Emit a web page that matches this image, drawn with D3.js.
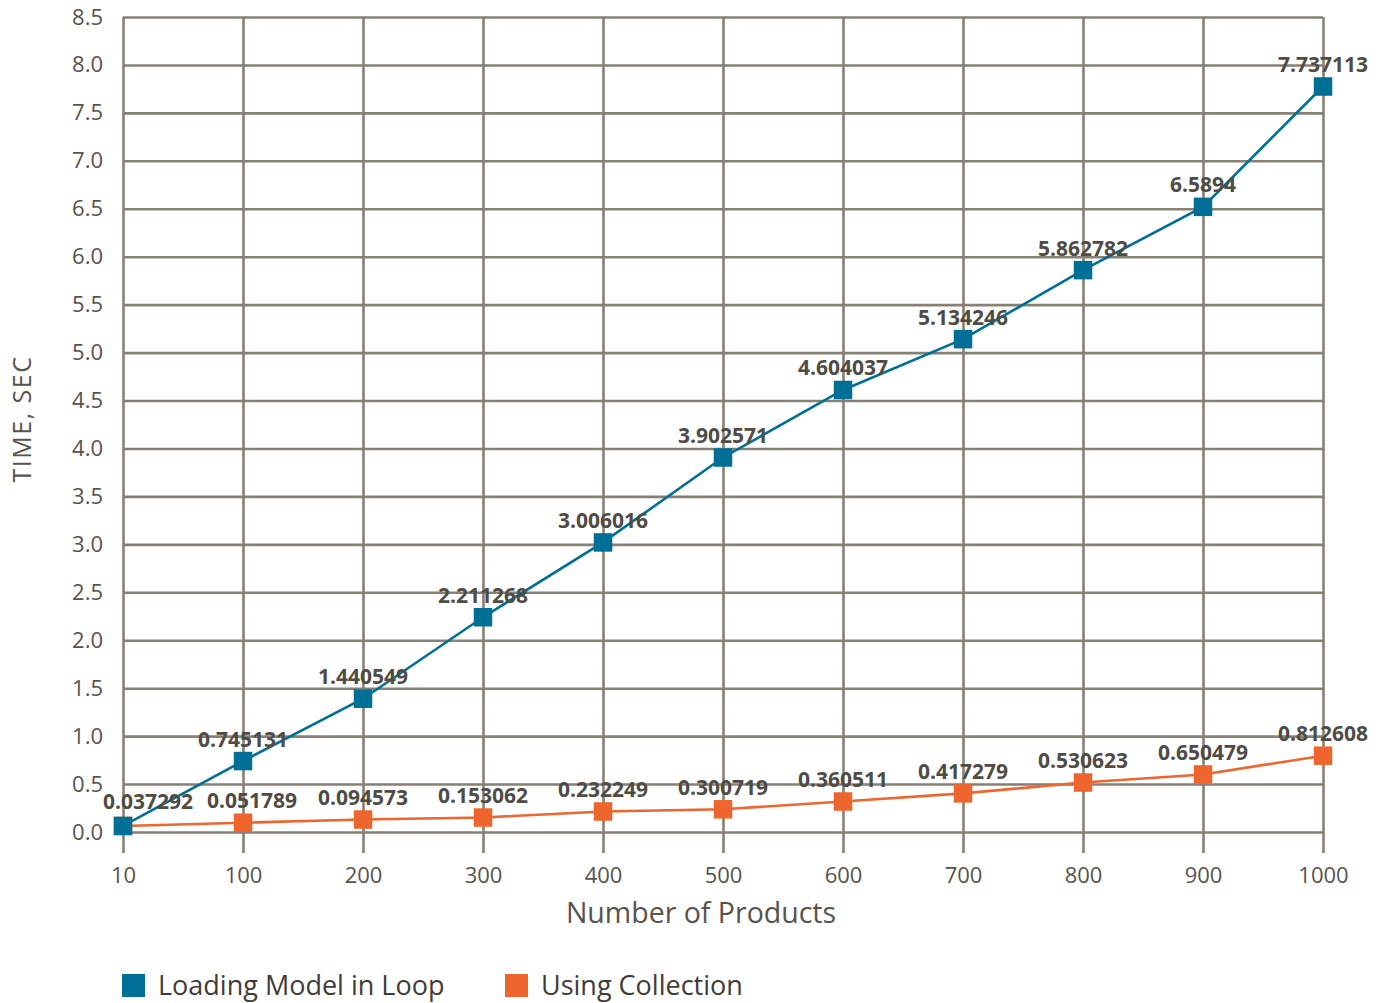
<!DOCTYPE html>
<html>
<head>
<meta charset="utf-8">
<script src="https://cdn.jsdelivr.net/npm/d3@7"></script>
<style>
  html, body { margin: 0; padding: 0; background: #fff; }
  svg { display: block; font-family: "Open Sans", sans-serif; }
</style>
</head>
<body>
<svg id="chart" width="1381" height="1003"></svg>
<script>
// ---- data ----
const categories = ["10", "100", "200", "300", "400", "500", "600", "700", "800", "900", "1000"];
const loopValues = [0.063, 0.74, 1.39, 2.24, 3.02, 3.906, 4.61, 5.14, 5.86, 6.52, 7.775];
const loopLabels = ["", "0.745131", "1.440549", "2.211268", "3.006016", "3.902571", "4.604037", "5.134246", "5.862782", "6.5894", "7.737113"];
const collectionValues = [0.063, 0.097, 0.13, 0.151, 0.214, 0.237, 0.318, 0.403, 0.516, 0.60, 0.796];
const collectionLabels = ["0.037292", "0.051789", "0.094573", "0.153062", "0.232249", "0.300719", "0.360511", "0.417279", "0.530623", "0.650479", "0.812608"];
const yTickValues = [0, 0.5, 1, 1.5, 2, 2.5, 3, 3.5, 4, 4.5, 5, 5.5, 6, 6.5, 7, 7.5, 8, 8.5];
const seriesNames = ["Loading Model in Loop", "Using Collection"];
const xTitle = "Number of Products";
const yTitle = "TIME, SEC";

(function () {
// ---- layout ----
const pLeft = 123, pRight = 1323, pTop = 17, pBottom = 832;
const gridColor = "#878074";
const tickTextColor = "#57534d";
const labelColor = "#4f4b45";
const blue = "#006f95";
const orange = "#ee652e";

const svg = d3.select("#chart");
const x = d3.scalePoint().domain(categories).range([pLeft, pRight]);
const y = d3.scaleLinear().domain([0, 8.5]).range([pBottom, pTop]);

// y grid + labels
const yAxis = svg.append("g")
  .attr("transform", `translate(${pLeft},0)`)
  .call(d3.axisLeft(y).tickValues(yTickValues).tickFormat(d3.format(".1f"))
    .tickSize(-(pRight - pLeft)).tickPadding(20));
yAxis.select(".domain").remove();
yAxis.selectAll(".tick line").attr("stroke", gridColor).attr("stroke-width", 2.6);
yAxis.selectAll(".tick text").attr("fill", tickTextColor)
  .style("font-size", "22px").style("font-family", "'Open Sans', sans-serif");

// x grid + labels
const xAxisY = 853;
const xAxis = svg.append("g")
  .attr("transform", `translate(0,${xAxisY})`)
  .call(d3.axisBottom(x).tickSize(-(xAxisY - pTop)).tickPadding(14));
xAxis.select(".domain").remove();
xAxis.selectAll(".tick line").attr("stroke", gridColor).attr("stroke-width", 2.6);
xAxis.selectAll(".tick text").attr("fill", tickTextColor)
  .style("font-size", "22px").style("font-family", "'Open Sans', sans-serif");

// series
const series = [
  { name: seriesNames[1], values: collectionValues, labels: collectionLabels, color: orange },
  { name: seriesNames[0], values: loopValues, labels: loopLabels, color: blue }
];

const line = d3.line()
  .x((d, i) => x(categories[i]))
  .y(d => y(d));

const msize = 18.5;
series.forEach(s => {
  svg.append("path")
    .datum(s.values)
    .attr("d", line)
    .attr("fill", "none")
    .attr("stroke", s.color)
    .attr("stroke-width", 2.6);
  svg.append("g").selectAll("rect")
    .data(s.values)
    .join("rect")
    .attr("x", (d, i) => x(categories[i]) - msize / 2)
    .attr("y", d => y(d) - msize / 2)
    .attr("width", msize)
    .attr("height", msize)
    .attr("fill", s.color);
});

// data labels (drawn on top), nudged right to avoid overlapping the previous one
series.forEach(s => {
  const texts = svg.append("g").selectAll("text")
    .data(s.values)
    .join("text")
    .attr("x", (d, i) => x(categories[i]))
    .attr("y", (d, i) => y(d) - (i === 0 ? 17 : 14.5))
    .attr("dx", (d, i) => i === 0 ? -20 : 0)
    .attr("text-anchor", (d, i) => i === 0 ? "start" : "middle")
    .attr("fill", labelColor)
    .style("font-size", "21px")
    .style("font-weight", "700")
    .text((d, i) => s.labels[i]);
  let prevRight = -Infinity;
  texts.each(function () {
    const t = d3.select(this);
    if (!t.text()) return;
    const bb = this.getBBox();
    if (bb.x < prevRight + 14) {
      const shift = prevRight + 14 - bb.x;
      t.attr("dx", (+t.attr("dx") || 0) + shift);
      prevRight = bb.x + bb.width + shift;
    } else {
      prevRight = bb.x + bb.width;
    }
  });
});

// axis titles
svg.append("text")
  .attr("x", 701)
  .attr("y", 923)
  .attr("text-anchor", "middle")
  .attr("fill", tickTextColor)
  .style("font-size", "28.5px")
  .text(xTitle);

svg.append("text")
  .attr("transform", `translate(31,419) rotate(-90)`)
  .attr("text-anchor", "middle")
  .attr("fill", tickTextColor)
  .style("font-size", "25px")
  .style("letter-spacing", "1.5px")
  .text(yTitle);

// legend
const legendItems = [
  { name: seriesNames[0], color: blue, x: 122 },
  { name: seriesNames[1], color: orange, x: 505 }
];
const lg = svg.append("g").selectAll("g").data(legendItems).join("g")
  .attr("transform", d => `translate(${d.x},974)`);
lg.append("rect").attr("width", 23).attr("height", 23).attr("fill", d => d.color);
lg.append("text")
  .attr("x", 36).attr("y", 21)
  .attr("fill", "#3f3c38")
  .style("font-size", "27px")
  .text(d => d.name);
})();
</script>
</body>
</html>
